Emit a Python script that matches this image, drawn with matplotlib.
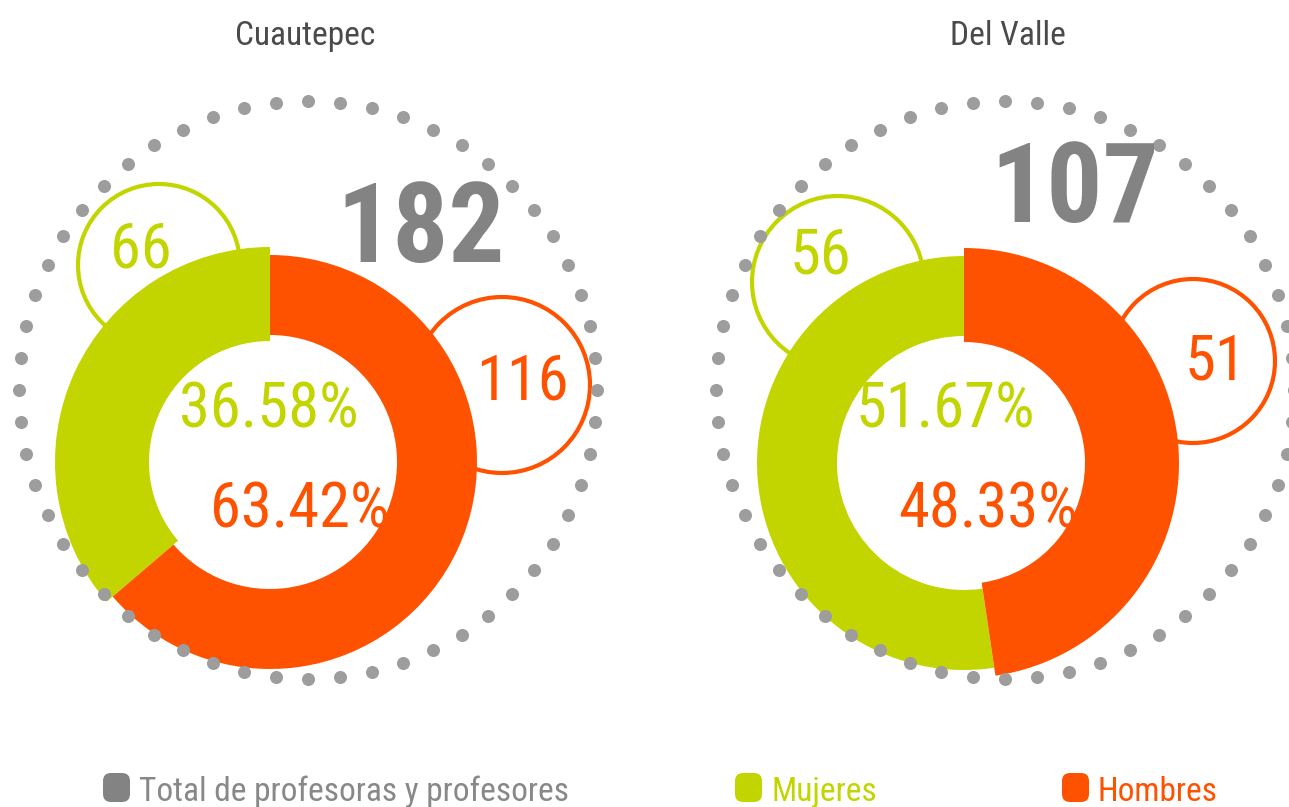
import numpy as np
import matplotlib
matplotlib.use('Agg')
import matplotlib.pyplot as plt
from matplotlib import font_manager
from matplotlib.patches import Circle, FancyBboxPatch

# ---------------- data ----------------
campuses = ['Cuautepec', 'Del Valle']
mujeres = [66, 56]
hombres = [116, 51]
totales = [182, 107]
pct_mujeres = [36.58, 51.67]
pct_hombres = [63.42, 48.33]
legend_labels = ['Total de profesoras y profesores', 'Mujeres', 'Hombres']

# ---------------- style ----------------
W, H = 1289, 807
GREEN = '#C3D500'
ORANGE = '#FF5200'
GRAY = '#838383'
DOT = '#9D9D9D'
TITLE = '#4A4A4A'

names = {f.name for f in font_manager.fontManager.ttflist}
prefs = ['Roboto Condensed', 'Noto Sans ExtraCondensed', 'Noto Sans Condensed',
         'Open Sans Condensed', 'Liberation Sans Narrow', 'Noto Sans SemiCondensed']
FAM, STRETCH = None, 'normal'
for p in prefs:
    if p in names:
        FAM = p
        break
if FAM is None:
    cands = sorted(n for n in names if 'Condensed' in n or 'Narrow' in n)
    if cands:
        FAM = cands[0]
    else:
        FAM, STRETCH = 'DejaVu Sans', 'condensed'

fig = plt.figure(figsize=(W / 100, H / 100), dpi=100)
ax = fig.add_axes([0, 0, 1, 1])


def Y(y):
    return H - y


def txt(x, y, s, size, color, weight='normal', ha='center', va='baseline'):
    ax.text(x, Y(y), s, fontsize=size, color=color, fontweight=weight,
            family=FAM, fontstretch=STRETCH, ha=ha, va=va, zorder=6)


# positions (pixel coords, text positions are baselines)
layout = [
    dict(title=(305, 45), dots=(308, 390, 289), donut=(270, 462),
         small_green=(159, 265, 81), small_orange=(502, 385, 88),
         t_green=(141, 268), t_orange=(522, 400), total=(421, 262),
         p_green=(269, 427), p_orange=(300, 527)),
    dict(title=(1008, 45), dots=(1005, 390, 289), donut=(964, 463),
         small_green=(838, 282, 86), small_orange=(1193, 361, 82),
         t_green=(820, 273), t_orange=(1215, 380), total=(1075, 222),
         p_green=(945, 427), p_orange=(988, 527)),
]

for i, L in enumerate(layout):
    for (cx, cy, r), col in [(L['small_green'], GREEN), (L['small_orange'], ORANGE)]:
        ax.add_patch(Circle((cx, Y(cy)), r, facecolor='white', edgecolor=col,
                            linewidth=3.0, zorder=1))

    vals = [mujeres[i], hombres[i]]
    cx, cy = L['donut']
    wedges, _ = ax.pie(vals, colors=[GREEN, ORANGE], startangle=90,
                       counterclock=True, center=(cx, Y(cy)), radius=210,
                       wedgeprops=dict(width=85, linewidth=0))
    small = int(np.argmin(vals))
    for k, w in enumerate(wedges):
        w.set_zorder(2)
        if k == small:
            w.set_radius(215)
            w.set_width(94)
        else:
            w.set_radius(207)
            w.set_width(80)

    dx, dy, dr = L['dots']
    ang = np.linspace(0, 2 * np.pi, 56, endpoint=False) + np.pi / 2
    ax.scatter(dx + dr * np.cos(ang), Y(dy) + dr * np.sin(ang), s=88,
               color=DOT, linewidths=0, zorder=5)

    txt(*L['title'], campuses[i], 24, TITLE)
    txt(*L['total'], f'{totales[i]}', 80, GRAY, weight='bold')
    txt(*L['t_green'], f'{mujeres[i]}', 45, GREEN)
    txt(*L['t_orange'], f'{hombres[i]}', 45, ORANGE)
    txt(*L['p_green'], f'{pct_mujeres[i]:.2f}%', 45, GREEN)
    txt(*L['p_orange'], f'{pct_hombres[i]:.2f}%', 45, ORANGE)

leg = [(103, GRAY, '#888888'), (735, GREEN, GREEN), (1062, ORANGE, ORANGE)]
for (x0, fc, tc), lab in zip(leg, legend_labels):
    ax.add_patch(FancyBboxPatch((x0 + 4, Y(798)), 19, 21,
                                boxstyle='round,pad=4,rounding_size=8',
                                facecolor=fc, edgecolor='none', zorder=3))
    txt(x0 + 36, 801, lab, 24, tc, ha='left')

ax.set_xlim(0, W)
ax.set_ylim(0, H)
ax.set_aspect('auto')
ax.axis('off')
fig.savefig('out.png', dpi=100)
